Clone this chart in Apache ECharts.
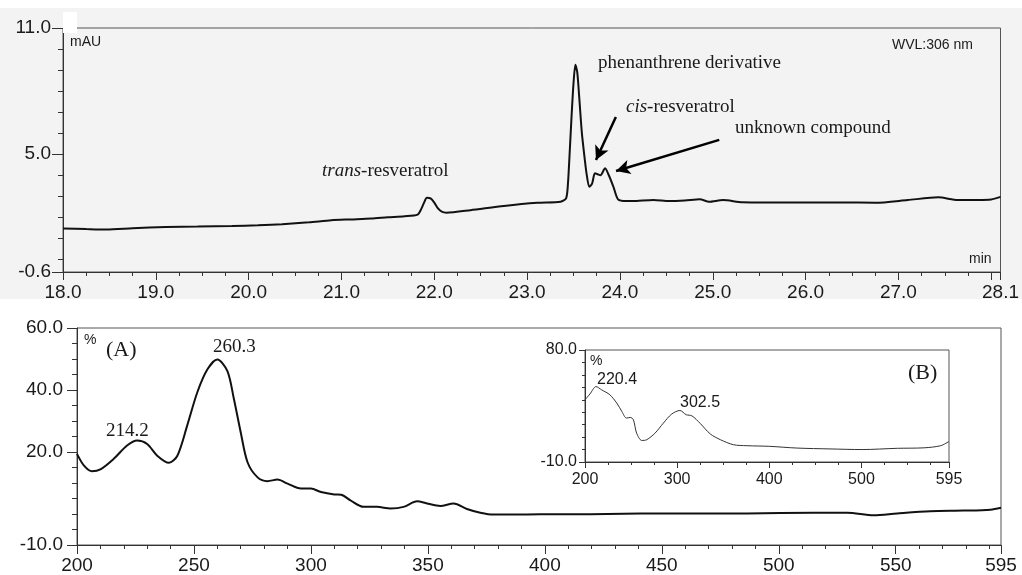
<!DOCTYPE html>
<html>
<head>
<meta charset="utf-8">
<script src="https://cdn.jsdelivr.net/npm/echarts@6/dist/echarts.min.js"></script>
<style>
html, body { margin: 0; padding: 0; background: #fff; }
#main { width: 1022px; height: 575px; }
</style>
</head>
<body>
<div id="main"></div>
<script>
// chromatogram (top): retention time in min, signal in mAU
const chromTime = [18.00, 18.25, 18.47, 18.75, 19.11, 19.45, 19.82, 20.10, 20.36, 20.65, 20.89, 21.10, 21.32, 21.50, 21.68, 21.82,
  21.86, 21.89, 21.92, 21.96, 22.00, 22.04, 22.08, 22.13, 22.39, 22.75, 23.11, 23.36, 23.42, 23.44, 23.46, 23.48, 23.50,
  23.52, 23.54, 23.56, 23.59, 23.62, 23.64, 23.67, 23.70, 23.73, 23.76, 23.79, 23.84, 23.88, 23.93, 23.98, 24.07, 24.18,
  24.36, 24.53, 24.70, 24.86, 24.96, 25.11, 25.32, 25.68, 26.03, 26.39, 26.75, 27.10, 27.43, 27.64, 28.00, 28.10];
const chromSignal = [1.47, 1.44, 1.42, 1.48, 1.54, 1.56, 1.59, 1.62, 1.67, 1.76, 1.86, 1.90, 1.94, 2.00, 2.05, 2.13,
  2.40, 2.70, 2.93, 2.90, 2.70, 2.42, 2.27, 2.22, 2.34, 2.54, 2.69, 2.74, 2.90, 3.60, 5.20, 6.90, 8.38,
  9.25, 8.90, 7.80, 6.00, 4.80, 4.09, 3.45, 3.60, 4.09, 4.05, 4.00, 4.33, 4.00, 3.45, 2.85, 2.77, 2.78,
  2.82, 2.77, 2.80, 2.86, 2.74, 2.82, 2.72, 2.71, 2.71, 2.71, 2.69, 2.82, 2.95, 2.82, 2.85, 2.97];

// UV spectrum (A): wavelength nm, %
const specAWave = [200, 203, 206.4, 210, 215.7, 221.4, 225.7, 230, 234.3, 239.3, 242.9, 247.1, 251.4, 255.7, 260, 264.3,
  267.1, 270, 272.9, 277.1, 281.4, 285.7, 290, 295.7, 300, 304.3, 310, 312.9, 316.9, 322.5, 328.3, 334, 339.6, 345.4,
  349.6, 355.3, 361, 366.7, 372.4, 378.1, 386.7, 398, 412.3, 426.6, 455, 486.5, 514.9, 529.2, 540.6, 550.6, 564.8,
  579, 590.5, 595];
const specAValue = [19.4, 15.6, 13.8, 14.4, 17.8, 22.1, 23.7, 22.6, 18.8, 16.5, 18.8, 28.5, 39.2, 46.6, 49.8, 46.1,
  37.0, 26.3, 16.7, 11.9, 10.6, 11.1, 9.8, 8.2, 8.2, 7.1, 6.3, 6.2, 4.4, 2.3, 2.3, 1.8, 2.3, 4.1,
  3.4, 2.6, 3.4, 1.6, 0.4, -0.2, -0.2, -0.1, -0.1, 0.0, 0.2, 0.2, 0.4, 0.4, -0.4, 0.2, 0.9,
  1.1, 1.4, 2.0];

// UV spectrum (B), inset
const specBWave = [200, 205.4, 212, 218, 227, 234.5, 240, 245, 249, 252.5, 256, 261.6, 267, 276, 285, 294, 303,
  309.8, 316, 325, 336, 347, 361, 375.7, 400, 430, 466, 500.7, 539, 568, 586, 595];
const specBValue = [40, 44.7, 50.6, 48, 44, 37.3, 30.6, 25.3, 25.8, 24, 13.2, 7.3, 7.9, 13.2, 21.2, 28.5, 31.4,
  28, 27.1, 21, 12.5, 7.9, 3.9, 3.1, 2.6, 1.2, 0.5, 0, 1.0, 1.4, 3.1, 6.5];

// tick and label positions
const topXMinor = [];
for (let v = 18; v <= 28.001; v += 0.25) topXMinor.push(+v.toFixed(2));
topXMinor.push(28.1);
const topXMajor = [18, 19, 20, 21, 22, 23, 24, 25, 26, 27, 28, 28.1];
const topXLabels = [18, 19, 20, 21, 22, 23, 24, 25, 26, 27, 28.1];
const topYMinor = [-0.6, 0, 1, 2, 3, 4, 5, 6, 7, 8, 9, 10, 11];
const topYLabels = [-0.6, 5, 11];

const aXMinor = [];
for (let v = 200; v <= 590; v += 10) aXMinor.push(v);
aXMinor.push(595);
const aXLabels = [200, 250, 300, 350, 400, 450, 500, 550, 595];
const aYMinor = [];
for (let v = -10; v <= 60; v += 5) aYMinor.push(v);
const aYLabels = [-10, 20, 40, 60];

const bXMinor = [];
for (let v = 200; v <= 575; v += 25) bXMinor.push(v);
bXMinor.push(595);
const bXLabels = [200, 300, 400, 500, 595];
const bYMinor = [-10, 0, 10, 20, 30, 40, 50, 60, 70, 80];
const bYLabels = [-10, 80];

// cis / unknown arrows (start -> tip) in data units
const cisArrow = [[23.956, 6.77], [23.742, 4.72]];
const unknownArrow = [[25.07, 5.68], [23.958, 4.2]];

const zip = (a, b) => a.map((x, i) => [x, b[i]]);
const axisCol = '#333';
const txtCol = '#1a1a1a';
const sans = 'Liberation Sans';
const serif = 'Liberation Serif';

// main axis = line + minor ticks; overlay axis = major ticks + labels
function mainAxis(grid, min, max, ticks, len, pos) {
  return {
    type: 'value', gridIndex: grid, min: min, max: max, position: pos,
    axisLine: { show: true, onZero: false, lineStyle: { color: axisCol, width: 1 } },
    axisTick: { show: true, customValues: ticks, length: len, lineStyle: { color: axisCol } },
    axisLabel: { show: false },
    splitLine: { show: false }
  };
}
function labelAxis(grid, min, max, ticks, labels, len, pos, size, margin, fmt) {
  return {
    type: 'value', gridIndex: grid, min: min, max: max, position: pos,
    axisLine: { show: false, onZero: false },
    axisTick: { show: true, customValues: ticks, length: len, lineStyle: { color: axisCol } },
    axisLabel: {
      show: true, customValues: labels, color: txtCol, fontFamily: sans, fontSize: size,
      margin: margin, formatter: fmt
    },
    splitLine: { show: false }
  };
}
const f1 = v => (+v).toFixed(1);
const f0 = v => String(Math.round(v));

var chartDom = document.getElementById('main');
var myChart = echarts.init(chartDom);
var option = {
  animation: false,
  backgroundColor: '#fff',
  grid: [
    { left: 63, top: 28, right: 15, height: 244, show: true, borderColor: '#555', borderWidth: 1, backgroundColor: 'transparent' },
    { left: 77, top: 328, width: 924, height: 219, show: true, borderColor: '#555', borderWidth: 1, backgroundColor: '#fff' },
    { left: 585, top: 350, width: 364, height: 112, show: true, borderColor: '#555', borderWidth: 1, backgroundColor: '#fff' }
  ],
  xAxis: [
    mainAxis(0, 18, 28.1, topXMinor, 4, 'bottom'),
    labelAxis(0, 18, 28.1, topXMajor, topXLabels, 8, 'bottom', 19, 11, f1),
    mainAxis(1, 200, 595, aXMinor, 4, 'bottom'),
    labelAxis(1, 200, 595, aXLabels, aXLabels, 9, 'bottom', 19, 11, f0),
    mainAxis(2, 200, 595, bXMinor, 3, 'bottom'),
    labelAxis(2, 200, 595, bXLabels, bXLabels, 6, 'bottom', 16, 10, f0)
  ],
  yAxis: [
    mainAxis(0, -0.6, 11, topYMinor, 5, 'left'),
    labelAxis(0, -0.6, 11, topYLabels, topYLabels, 11, 'left', 19, 12, f1),
    mainAxis(1, -10, 60, aYMinor, 5, 'left'),
    labelAxis(1, -10, 60, aYLabels, aYLabels, 10, 'left', 19, 14, f1),
    mainAxis(2, -10, 80, bYMinor, 3, 'left'),
    labelAxis(2, -10, 80, bYLabels, bYLabels, 6, 'left', 16, 8, f1)
  ],
  series: [
    {
      type: 'line', xAxisIndex: 0, yAxisIndex: 0, data: zip(chromTime, chromSignal),
      showSymbol: false, smooth: 0.25, silent: true,
      lineStyle: { color: '#111', width: 2 },
      markLine: {
        silent: true, symbol: ['none', 'arrow'], symbolSize: [11, 14],
        label: { show: false },
        lineStyle: { color: '#000', width: 2.5, type: 'solid' },
        data: [
          [{ coord: cisArrow[0] }, { coord: cisArrow[1] }],
          [{ coord: unknownArrow[0] }, { coord: unknownArrow[1] }]
        ]
      }
    },
    {
      type: 'line', xAxisIndex: 2, yAxisIndex: 2, data: zip(specAWave, specAValue),
      showSymbol: false, smooth: 0.3, silent: true,
      lineStyle: { color: '#111', width: 2 }
    },
    {
      type: 'line', xAxisIndex: 4, yAxisIndex: 4, data: zip(specBWave, specBValue),
      showSymbol: false, smooth: 0.3, silent: true, z: 5,
      lineStyle: { color: '#333', width: 1 }
    }
  ],
  graphic: [
    { type: 'rect', z: -10, shape: { x: 0, y: 8, width: 1022, height: 291 }, style: { fill: '#f3f3f3' } },
    { type: 'rect', z: 50, shape: { x: 63, y: 12, width: 14, height: 21 }, style: { fill: '#fff' } },
    { type: 'text', z: 60, x: 70, y: 42, style: { text: 'mAU', font: '14px "Liberation Sans"', fill: txtCol, textVerticalAlign: 'middle' } },
    { type: 'text', z: 60, x: 892, y: 45, style: { text: 'WVL:306 nm', font: '14px "Liberation Sans"', fill: txtCol, textVerticalAlign: 'middle' } },
    { type: 'text', z: 60, x: 969, y: 259, style: { text: 'min', font: '14px "Liberation Sans"', fill: txtCol, textVerticalAlign: 'middle' } },
    {
      type: 'text', z: 60, x: 322, y: 171,
      style: {
        text: '{i|trans}-resveratrol', font: '19px "Liberation Serif"', fill: txtCol, textVerticalAlign: 'middle',
        rich: { i: { fontStyle: 'italic', fontFamily: serif, fontSize: 19, fill: txtCol } }
      }
    },
    { type: 'text', z: 60, x: 598, y: 63, style: { text: 'phenanthrene derivative', font: '19px "Liberation Serif"', fill: txtCol, textVerticalAlign: 'middle' } },
    {
      type: 'text', z: 60, x: 626, y: 107,
      style: {
        text: '{i|cis}-resveratrol', font: '19px "Liberation Serif"', fill: txtCol, textVerticalAlign: 'middle',
        rich: { i: { fontStyle: 'italic', fontFamily: serif, fontSize: 19, fill: txtCol } }
      }
    },
    { type: 'text', z: 60, x: 735, y: 128, style: { text: 'unknown compound', font: '19px "Liberation Serif"', fill: txtCol, textVerticalAlign: 'middle' } },
    { type: 'text', z: 60, x: 84, y: 340, style: { text: '%', font: '14px "Liberation Sans"', fill: txtCol, textVerticalAlign: 'middle' } },
    { type: 'text', z: 60, x: 106, y: 350, style: { text: '(A)', font: '22px "Liberation Serif"', fill: txtCol, textVerticalAlign: 'middle' } },
    { type: 'text', z: 60, x: 213, y: 347, style: { text: '260.3', font: '19px "Liberation Serif"', fill: txtCol, textVerticalAlign: 'middle' } },
    { type: 'text', z: 60, x: 106, y: 431, style: { text: '214.2', font: '19px "Liberation Serif"', fill: txtCol, textVerticalAlign: 'middle' } },
    { type: 'text', z: 60, x: 590, y: 361, style: { text: '%', font: '14px "Liberation Sans"', fill: txtCol, textVerticalAlign: 'middle' } },
    { type: 'text', z: 60, x: 597, y: 380, style: { text: '220.4', font: '16px "Liberation Sans"', fill: txtCol, textVerticalAlign: 'middle' } },
    { type: 'text', z: 60, x: 680, y: 403, style: { text: '302.5', font: '16px "Liberation Sans"', fill: txtCol, textVerticalAlign: 'middle' } },
    { type: 'text', z: 60, x: 908, y: 373, style: { text: '(B)', font: '22px "Liberation Serif"', fill: txtCol, textVerticalAlign: 'middle' } }
  ]
};
option && myChart.setOption(option);
</script>
</body>
</html>
